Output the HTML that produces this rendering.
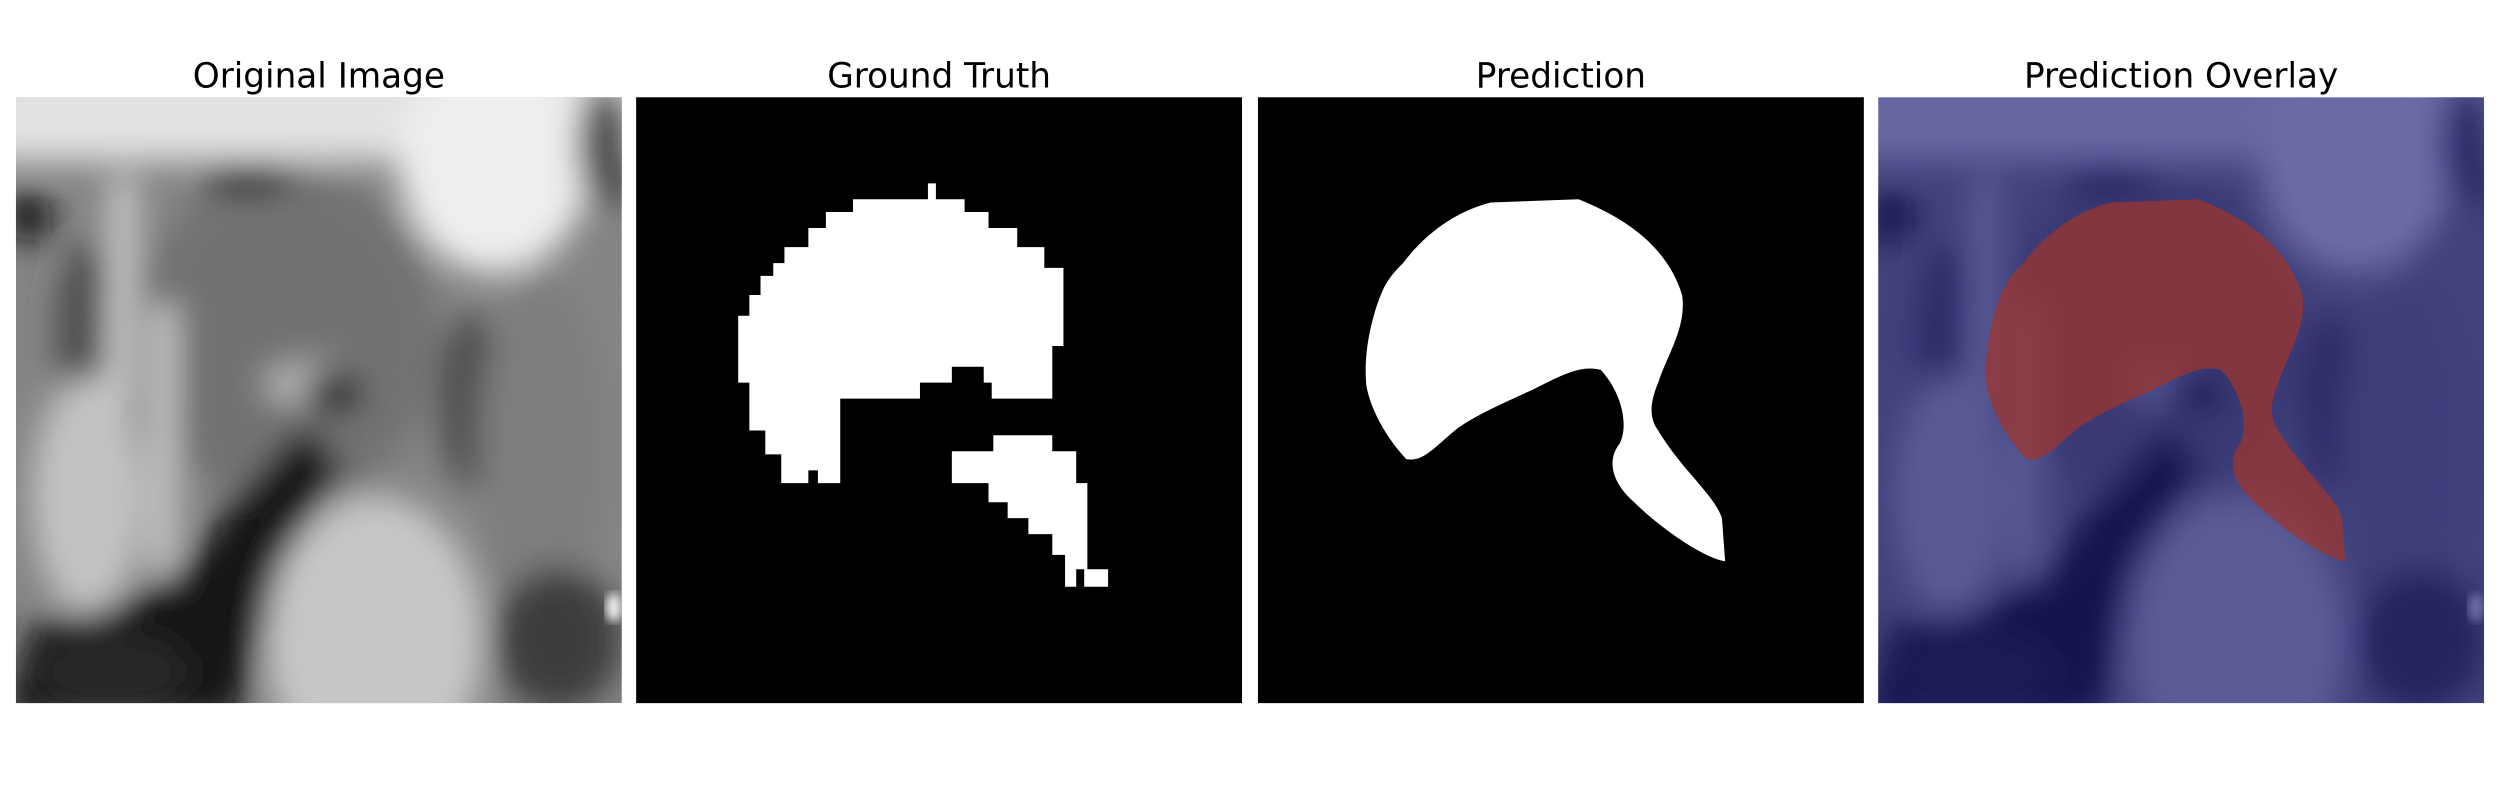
<!DOCTYPE html>
<html><head><meta charset="utf-8"><style>
html,body{margin:0;padding:0;background:#fff;width:2500px;height:800px;overflow:hidden}
text{font-family:"DejaVu Sans","Liberation Sans",sans-serif}
</style></head><body>
<svg width="2500" height="800" viewBox="0 0 1568 501.76" xmlns="http://www.w3.org/2000/svg">
<defs>
<filter id="bl" x="-20%" y="-20%" width="140%" height="140%"><feGaussianBlur stdDeviation="10"/></filter>
<filter id="bl2"><feGaussianBlur stdDeviation="3"/></filter>
<clipPath id="c1"><rect x="10" y="61" width="380" height="380"/></clipPath>
<g id="mri">
<rect x="0" y="0" width="380" height="380" fill="#858585"/>
<g filter="url(#bl)">
<rect x="-20" y="-20" width="420" height="60" fill="#e2e2e2"/>
<ellipse cx="300" cy="40" rx="60" ry="70" fill="#eeeeee"/>
<ellipse cx="370" cy="30" rx="18" ry="40" fill="#4a4a4a"/>
<ellipse cx="170" cy="150" rx="95" ry="105" fill="#727272"/>
<ellipse cx="145" cy="50" rx="30" ry="10" fill="#1e1e1e"/>
<ellipse cx="8" cy="75" rx="14" ry="16" fill="#111"/>
<ellipse cx="45" cy="150" rx="20" ry="60" fill="#4e4e4e"/>
<path d="M60 50 L75 50 L70 280 L55 280 Z" fill="#d4d4d4"/>
<path d="M85 130 L100 130 L100 300 L85 300 Z" fill="#cfcfcf"/>
<ellipse cx="45" cy="250" rx="35" ry="75" fill="#c2c2c2"/>
<ellipse cx="185" cy="180" rx="30" ry="14" fill="#b4b4b4"/>
<ellipse cx="200" cy="185" rx="18" ry="14" fill="#2c2c2c"/>
<ellipse cx="285" cy="190" rx="20" ry="55" fill="#4e4e4e"/>
<ellipse cx="330" cy="220" rx="40" ry="110" fill="#7e7e7e"/>
<path d="M10 330 Q100 320 130 260 L180 205 L205 230 Q160 300 140 390 L-10 390 Z" fill="#161616"/>
<ellipse cx="225" cy="340" rx="68" ry="90" fill="#c6c6c6"/>
<ellipse cx="340" cy="340" rx="40" ry="45" fill="#3c3c3c"/>
<ellipse cx="60" cy="360" rx="50" ry="25" fill="#262626"/>
</g>
<ellipse cx="375" cy="320" rx="5" ry="9" fill="#f0f0f0" filter="url(#bl2)"/>
</g>
<path id="pred" d="M880,165 C895,145 915,132 935,127 L990,125 C1015,135 1045,152 1055,185 C1058,205 1046,222 1040,240 C1035,252 1034,262 1040,270 C1055,295 1075,310 1080,325 L1082,352 C1068,350 1040,330 1025,315 C1010,302 1008,288 1016,278 C1022,265 1016,245 1004,232 C990,228 975,238 960,245 C945,252 930,258 915,268 C900,280 893,290 882,288 C870,275 860,258 857,242 C855,222 860,200 866,185 C870,175 875,170 880,165 Z"/>
</defs>

<text x="200" y="55" font-size="21.5" text-anchor="middle">Original Image</text>
<text x="589" y="55" font-size="21.5" text-anchor="middle">Ground Truth</text>
<text x="979" y="55" font-size="21.5" text-anchor="middle">Prediction</text>
<text x="1368" y="55" font-size="21.5" text-anchor="middle">Prediction Overlay</text>

<g clip-path="url(#c1)">
<use href="#mri" transform="translate(10,61)"/>
</g>

<g>
<rect x="399" y="61" width="380" height="380" fill="#000"/>
<polygon fill="#fff" points="535,125 582,125 582,115 587,115 587,125 605,125 605,133 620,133 620,143 638,143 638,155 655,155 655,168 667,168 667,217 660,217 660,250 622,250 622,240 617,240 617,230 597,230 597,240 577,240 577,250 527,250 527,303 513,303 513,295 507,295 507,303 490,303 490,285 480,285 480,270 470,270 470,240 463,240 463,198 470,198 470,185 477,185 477,173 485,173 485,165 492,165 492,155 507,155 507,143 518,143 518,133 535,133"/>
<polygon fill="#fff" points="597,283 623,283 623,273 660,273 660,283 675,283 675,303 682,303 682,357 695,357 695,368 680,368 680,357 675,357 675,368 668,368 668,348 660,348 660,335 645,335 645,325 632,325 632,315 620,315 620,303 597,303"/>
</g>

<g>
<rect x="789" y="61" width="380" height="380" fill="#000"/>
<use href="#pred" fill="#fff"/>
</g>

<g>
<clipPath id="c4"><rect x="1178" y="61" width="380" height="380"/></clipPath>
<g clip-path="url(#c4)">
<use href="#mri" transform="translate(1178,61)"/>
<rect x="1178" y="61" width="380" height="380" fill="#14147a" opacity="0.6"/>
<use href="#pred" transform="translate(389,0)" fill="#a0352a" opacity="0.72"/>
</g>
</g>
</svg>
</body></html>
